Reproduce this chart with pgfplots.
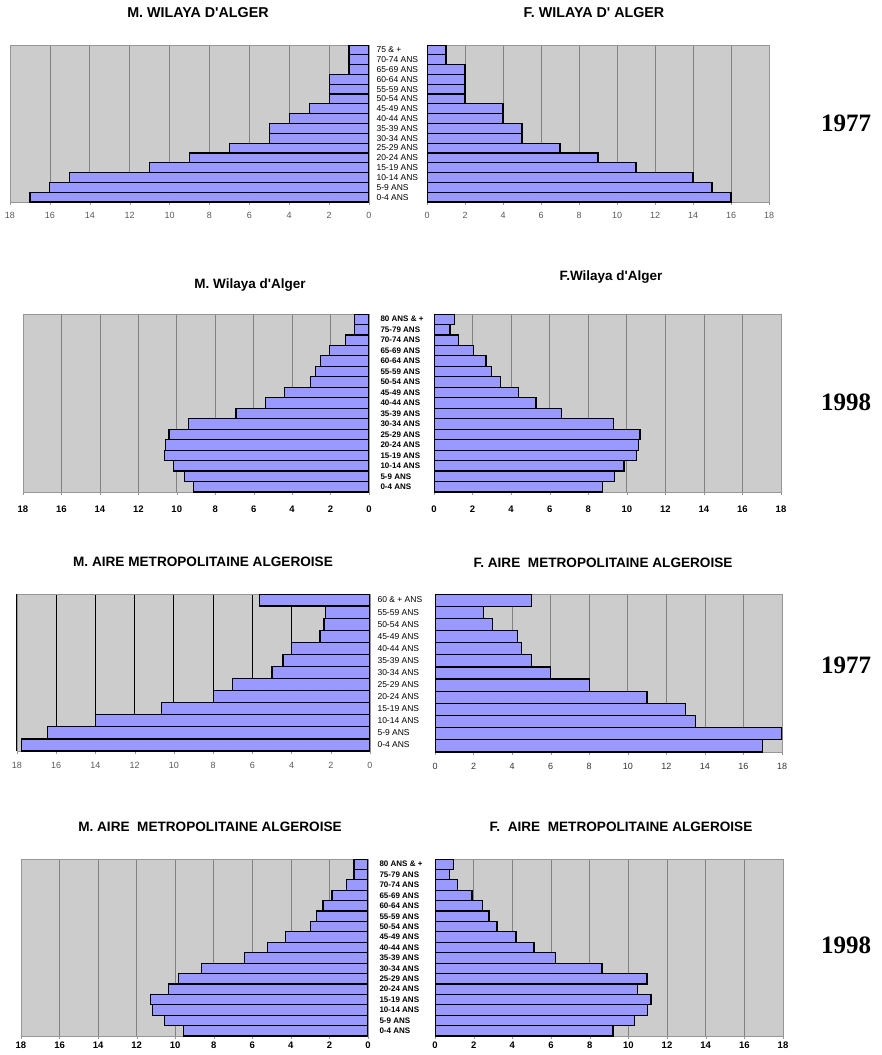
\documentclass[border=0pt]{standalone}
\usepackage{fontspec}
\setmainfont{Liberation Sans}
\newfontfamily\yearfont{Liberation Serif}
\usepackage{pgfplots}
\pgfplotsset{compat=1.18}

\definecolor{barblue}{RGB}{153,153,255}
\definecolor{bggray}{RGB}{204,204,204}
\definecolor{gridgray}{RGB}{130,130,130}
\definecolor{framegray}{RGB}{150,150,150}

\pgfplotsset{
  pyr/.style={
    scale only axis, xbar, bar width=1,
    xmin=0, xmax=18, xtick={0,2,...,18},
    xmajorgrids, major grid style={gridgray, line width=0.7pt},
    axis background/.style={fill=bggray},
    axis line style={framegray, line width=0.8pt},
    /pgf/number format/assume math mode=true,
    xticklabel style={font=\fontsize{9}{9}\selectfont, text=black!65},
    xtick style={framegray}, xtick pos=bottom,
    tick align=outside, major tick length=2.5pt,
    ytick=\empty,
    extra y tick style={major tick length=0pt},
  },
  leftp/.style={pyr, x dir=reverse, yticklabel pos=right,
    extra y tick style={major tick length=0pt,
      yticklabel style={font=\fontsize{8.5}{8.5}\selectfont, xshift=4pt}}},
  rightp/.style={pyr},
  barst/.style={fill=barblue, draw=black, line width=1.2pt},
}

\begin{document}
\begin{tikzpicture}

% ---------- 1977 Wilaya d'Alger ----------
\begin{axis}[leftp, at={(10pt,-45pt)}, anchor=north west, width=359pt, height=157pt,
  ymin=-0.5, ymax=15.5,
  xticklabel style={yshift=-4pt},
  extra y ticks={0,...,15},
  extra y tick labels={0-4 ANS,5-9 ANS,10-14 ANS,15-19 ANS,20-24 ANS,25-29 ANS,30-34 ANS,35-39 ANS,40-44 ANS,45-49 ANS,50-54 ANS,55-59 ANS,60-64 ANS,65-69 ANS,70-74 ANS,75 \& +}]
\addplot[barst] coordinates {
  (17,0)(16,1)(15,2)(11,3)(9,4)(7,5)(5,6)(5,7)(4,8)(3,9)(2,10)(2,11)(2,12)(1,13)(1,14)(1,15)
};
\end{axis}
\begin{axis}[rightp, at={(427pt,-45pt)}, anchor=north west, width=342pt, height=157pt,
  ymin=-0.5, ymax=15.5, xticklabel style={yshift=-4pt}]
\addplot[barst] coordinates {
  (16,0)(15,1)(14,2)(11,3)(9,4)(7,5)(5,6)(5,7)(4,8)(4,9)(2,10)(2,11)(2,12)(2,13)(1,14)(1,15)
};
\end{axis}
\node[font=\bfseries\fontsize{14.3}{15}\selectfont] at (198pt,-13pt) {M. WILAYA D\textquotesingle ALGER};
\node[font=\bfseries\fontsize{14.3}{15}\selectfont] at (594pt,-13pt) {F. WILAYA D\textquotesingle\ ALGER};
\node[font=\yearfont\bfseries\fontsize{25}{26}\selectfont] at (846pt,-123pt) {1977};

% ---------- 1998 Wilaya d'Alger ----------
\begin{axis}[leftp, at={(23pt,-314pt)}, anchor=north west, width=346pt, height=178pt,
  ymin=-0.5, ymax=16.5,
  xticklabel style={yshift=-8pt, font=\bfseries\fontsize{9.5}{9.5}\selectfont, text=black},
  extra y ticks={0,...,16},
  extra y tick style={major tick length=0pt,
    yticklabel style={font=\bfseries\fontsize{8}{8}\selectfont, xshift=4pt}},
  extra y tick labels={0-4 ANS,5-9 ANS,10-14 ANS,15-19 ANS,20-24 ANS,25-29 ANS,30-34 ANS,35-39 ANS,40-44 ANS,45-49 ANS,50-54 ANS,55-59 ANS,60-64 ANS,65-69 ANS,70-74 ANS,75-79 ANS,80 ANS \& +}]
\addplot[barst] coordinates {
  (9.13,0)(9.60,1)(10.17,2)(10.64,3)(10.57,4)(10.40,5)(9.39,6)(6.92,7)(5.38,8)(4.38,9)(3.04,10)(2.79,11)(2.53,12)(2.06,13)(1.21,14)(0.76,15)(0.76,16)
};
\end{axis}
\begin{axis}[rightp, at={(434pt,-314pt)}, anchor=north west, width=347pt, height=178pt,
  ymin=-0.5, ymax=16.5,
  xticklabel style={yshift=-8pt, font=\bfseries\fontsize{9.5}{9.5}\selectfont, text=black}]
\addplot[barst] coordinates {
  (8.75,0)(9.38,1)(9.86,2)(10.50,3)(10.62,4)(10.69,5)(9.31,6)(6.61,7)(5.29,8)(4.39,9)(3.44,10)(2.98,11)(2.70,12)(2.04,13)(1.28,14)(0.83,15)(1.06,16)
};
\end{axis}
\node[font=\bfseries\fontsize{13.5}{14}\selectfont] at (250pt,-285pt) {M. Wilaya d\textquotesingle Alger};
\node[font=\bfseries\fontsize{13.5}{14}\selectfont] at (611pt,-277pt) {F.Wilaya d\textquotesingle Alger};
\node[font=\yearfont\bfseries\fontsize{25}{26}\selectfont] at (846pt,-402pt) {1998};

% ---------- 1977 Aire metropolitaine ----------
\begin{axis}[leftp, at={(17pt,-594pt)}, anchor=north west, width=353pt, height=157pt,
  ymin=-0.5, ymax=12.5,
  major grid style={black, line width=1.1pt},
  xticklabel style={yshift=-5pt},
  extra y ticks={0,...,12},
  extra y tick labels={0-4 ANS,5-9 ANS,10-14 ANS,15-19 ANS,20-24 ANS,25-29 ANS,30-34 ANS,35-39 ANS,40-44 ANS,45-49 ANS,50-54 ANS,55-59 ANS,60 \& + ANS}]
\addplot[barst] coordinates {
  (17.77,0)(16.43,1)(14,2)(10.63,3)(8,4)(7,5)(5,6)(4.44,7)(4,8)(2.55,9)(2.35,10)(2.26,11)(5.65,12)
};
\end{axis}
\begin{axis}[rightp, at={(435pt,-594pt)}, anchor=north west, width=347pt, height=158pt,
  ymin=-0.5, ymax=12.5,
  xticklabel style={yshift=-5pt, text=black!80}]
\addplot[barst] coordinates {
  (17,0)(18,1)(13.5,2)(13,3)(11,4)(8,5)(6,6)(5,7)(4.5,8)(4.29,9)(3,10)(2.5,11)(5,12)
};
\end{axis}
\node[font=\bfseries\fontsize{13.6}{14}\selectfont] at (203pt,-562pt) {M. AIRE METROPOLITAINE ALGEROISE};
\node[font=\bfseries\fontsize{13.6}{14}\selectfont] at (603pt,-563pt) {F. AIRE \ METROPOLITAINE ALGEROISE};
\node[font=\yearfont\bfseries\fontsize{25}{26}\selectfont] at (846pt,-665pt) {1977};

% ---------- 1998 Aire metropolitaine ----------
\begin{axis}[leftp, at={(21pt,-859pt)}, anchor=north west, width=347pt, height=177pt,
  ymin=-0.5, ymax=16.5,
  xticklabel style={yshift=0pt, font=\bfseries\fontsize{9.5}{9.5}\selectfont, text=black},
  extra y ticks={0,...,16},
  extra y tick style={major tick length=0pt,
    yticklabel style={font=\bfseries\fontsize{8}{8}\selectfont, xshift=4pt}},
  extra y tick labels={0-4 ANS,5-9 ANS,10-14 ANS,15-19 ANS,20-24 ANS,25-29 ANS,30-34 ANS,35-39 ANS,40-44 ANS,45-49 ANS,50-54 ANS,55-59 ANS,60-64 ANS,65-69 ANS,70-74 ANS,75-79 ANS,80 ANS \& +}]
\addplot[barst] coordinates {
  (9.58,0)(10.57,1)(11.19,2)(11.30,3)(10.33,4)(9.81,5)(8.64,6)(6.39,7)(5.22,8)(4.27,9)(2.99,10)(2.68,11)(2.33,12)(1.87,13)(1.12,14)(0.73,15)(0.73,16)
};
\end{axis}
\begin{axis}[rightp, at={(435pt,-859pt)}, anchor=north west, width=348pt, height=177pt,
  ymin=-0.5, ymax=16.5,
  xticklabel style={yshift=0pt, font=\bfseries\fontsize{9.5}{9.5}\selectfont, text=black}]
\addplot[barst] coordinates {
  (9.21,0)(10.31,1)(11.0,2)(11.17,3)(10.48,4)(10.97,5)(8.64,6)(6.22,7)(5.12,8)(4.19,9)(3.21,10)(2.79,11)(2.47,12)(1.91,13)(1.17,14)(0.76,15)(0.97,16)
};
\end{axis}
\node[font=\bfseries\fontsize{13.6}{14}\selectfont] at (210pt,-827pt) {M. AIRE \ METROPOLITAINE ALGEROISE};
\node[font=\bfseries\fontsize{13.6}{14}\selectfont] at (621pt,-827pt) {F. \ AIRE \ METROPOLITAINE ALGEROISE};
\node[font=\yearfont\bfseries\fontsize{25}{26}\selectfont] at (846pt,-945pt) {1998};

\path (0pt,0pt) rectangle (881pt,-1055pt);
\end{tikzpicture}
\end{document}
